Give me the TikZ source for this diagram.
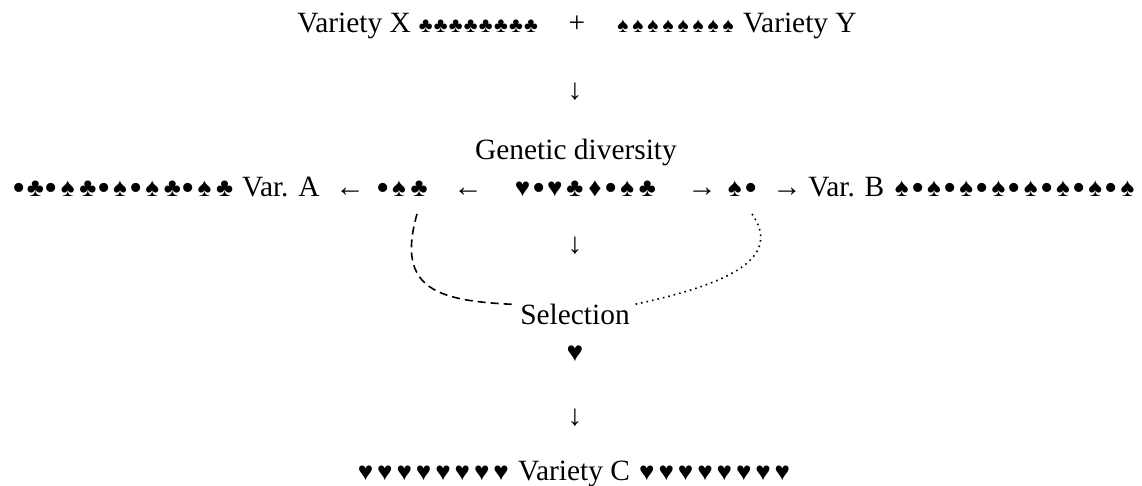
\documentclass[tikz,border=0pt]{standalone}
\usepackage{fontspec}
\setmainfont{Liberation Serif}
\usetikzlibrary{calc}

\tikzset{
    txt/.style={font=\fontsize{14.7}{17}\selectfont, inner sep=0pt}
}
% card symbols set on a fixed pitch
\newlength{\symem}
\newcommand{\bul}{\raisebox{-1.8pt}{\fontsize{19}{19}\selectfont •}}
\def\symloop#1{\ifx#1\relax\else\ifx#1•\makebox[0.46\symem]{\bul}\else\makebox[0.753\symem]{#1}\fi\expandafter\symloop\fi}
\newcommand{\syms}[3]{{\setlength{\symem}{#1}\fontsize{#2}{#2}\selectfont\symloop#3\relax}}

\begin{document}
\begin{tikzpicture}[x=0.5pt,y=0.5pt]
\useasboundingbox (0,0) rectangle (1142,486);

% Parent varieties
\node[txt,anchor=base east] (varX) at (539,453) {Variety X \syms{10pt}{10.5pt}{♣♣♣♣♣♣♣♣}};
\node[txt,anchor=base] (plus) at (577,453) {+};
\node[txt,anchor=base west] (varY) at (615,453) {\syms{10pt}{10.5pt}{♠♠♠♠♠♠♠♠} Variety Y};
\node[txt] (down1) at (575,394) {↓};
\node[txt,anchor=base] (diversity) at (576,326) {Genetic diversity};

% Row of offspring
\node[txt,anchor=base east] (varA) at (320,289) {\syms{13.3pt}{13pt}{•♣•♠♣•♠•♠♣•♠♣} Var. A};
\node[txt,anchor=base] (leftA) at (350,289) {←};
\node[txt,anchor=base] (grpA) at (403,289) {\syms{13.3pt}{13pt}{•♠♣}};
\node[txt,anchor=base] (leftB) at (468,289) {←};
\node[txt,anchor=base] (pool) at (585,289) {\syms{13.3pt}{13pt}{♥•♥♣♦•♠♣}};
\node[txt,anchor=base] (rightA) at (702,289) {→};
\node[txt,anchor=base] (grpB) at (741,289) {\syms{13.3pt}{13pt}{♠•}};
\node[txt,anchor=base] (rightB) at (787,289) {→};
\node[txt,anchor=base west] (varB) at (808,289) {Var. B \syms{13.3pt}{13pt}{♠•♠•♠•♠•♠•♠•♠•♠}};

\node[txt] (down2) at (575,240) {↓};

% Selection
\node[txt,anchor=base,inner sep=2pt] (sel) at (575,161) {Selection};
\node[txt] (heart) at (575,132) {\syms{12pt}{14pt}{♥}};
\node[txt] (down3) at (575,68) {↓};

% Result
\node[txt,anchor=base] (varC) at (574,5) {\syms{12.85pt}{13pt}{♥♥♥♥♥♥♥♥} Variety C \syms{12.85pt}{13pt}{♥♥♥♥♥♥♥♥}};

% Links to selection
\draw[dash pattern=on 4pt off 2.5pt,thick] ($(grpA.south)+(14,-13)$) .. controls (395,195) and (440,185) .. (sel.170);
\draw[dotted,thick] ($(grpB.south)+(11,-13)$) .. controls (785,225) and (720,200) .. (sel.10);

\end{tikzpicture}
\end{document}
